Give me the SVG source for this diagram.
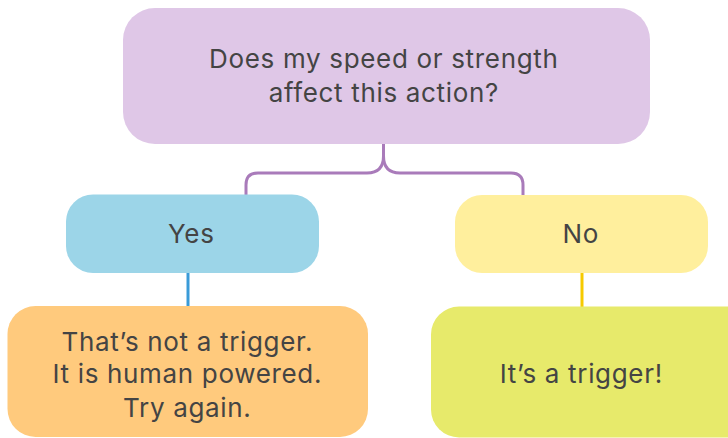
<svg xmlns="http://www.w3.org/2000/svg" width="728" height="438" viewBox="0 0 728 438">
<style>
text{font-family:Inter,"Open Sans","Liberation Sans",sans-serif;font-size:26px;font-weight:400;letter-spacing:0.67px;fill:#444444;text-anchor:middle}
.conn{fill:none;stroke-width:3}
</style>
<rect width="728" height="438" fill="#ffffff"/>
<g id="connectors">
<path class="conn" stroke="#A97BBA" d="M383.5,143 V156 Q383.5,173 367,173 H258 Q246,173 246,185 V195"/>
<path class="conn" stroke="#A97BBA" d="M383.5,156 Q383.5,173 400,173 H511 Q523,173 523,185 V195"/>
<path class="conn" stroke="#3A9BD8" d="M188,272 V307"/>
<path class="conn" stroke="#F6CA00" d="M582,272 V307"/>
</g>
<g id="question">
<rect x="123" y="8" width="527" height="136" rx="32" fill="#DFC7E7"/>
<text x="383.8" y="67.7">Does my speed or strength</text>
<text x="383.8" y="101.7">affect this action?</text>
</g>
<g id="yes">
<rect x="66" y="194.5" width="253" height="78.5" rx="27" fill="#9CD5E8"/>
<text x="191.3" y="243.3">Yes</text>
</g>
<g id="no">
<rect x="455" y="195" width="253" height="78" rx="27" fill="#FFEF9D"/>
<text x="580.8" y="243.3">No</text>
</g>
<g id="not-trigger">
<rect x="7.5" y="306" width="360.5" height="131" rx="28" fill="#FFCA7D"/>
<text x="187.3" y="350.7">That’s not a trigger.</text>
<text x="187.3" y="383.3">It is human powered.</text>
<text x="187.3" y="416.7">Try again.</text>
</g>
<g id="trigger">
<rect x="431" y="306.5" width="340" height="131" rx="28" fill="#E7EA6B"/>
<text x="581.3" y="383">It’s a trigger!</text>
</g>
</svg>
